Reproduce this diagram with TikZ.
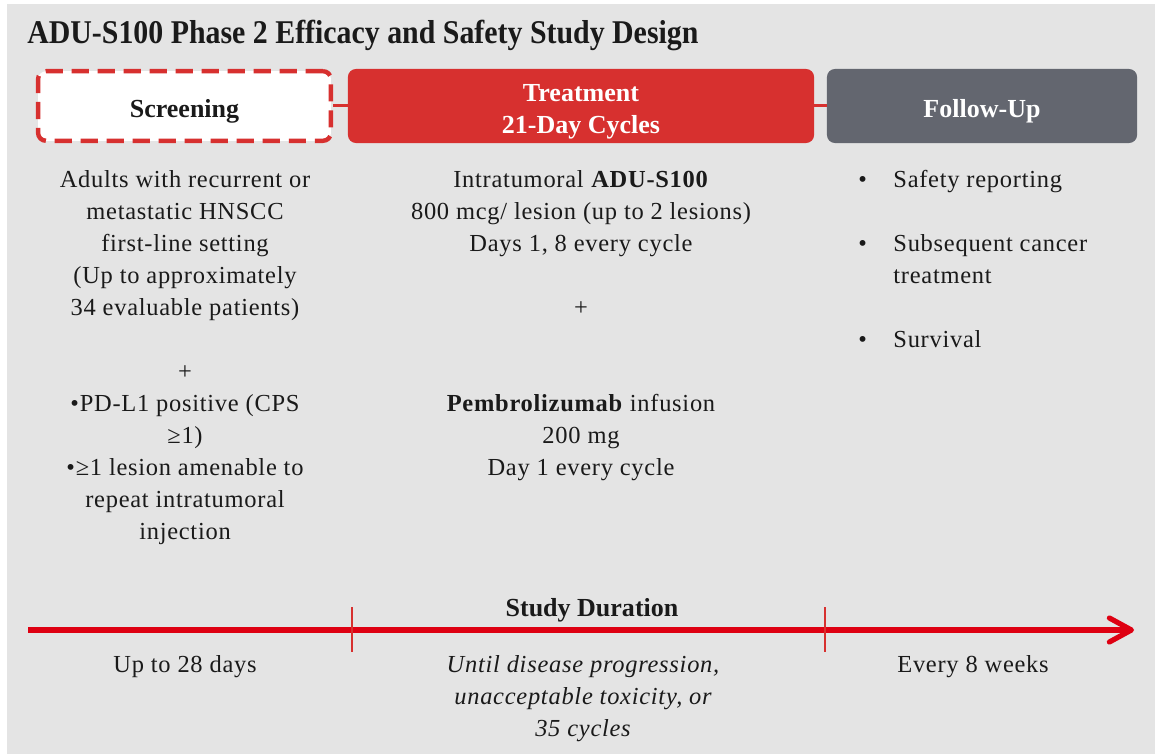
\documentclass[tikz,border=0pt]{standalone}
\usepackage{fontspec}
\setmainfont{Liberation Serif}
\newfontfamily\slidebody{Liberation Serif}[LetterSpace=3]
\newfontfamily\slidetitle{Liberation Serif}[FakeStretch=0.9]
\usetikzlibrary{arrows.meta}
\definecolor{slidebg}{HTML}{E4E4E4}
\definecolor{phasered}{HTML}{D7302F}
\definecolor{phasegray}{HTML}{63666F}
\definecolor{axisred}{HTML}{DE0012}
\definecolor{inkblack}{HTML}{1A1A1A}
\newcommand\itemmark{\makebox[25pt][l]{•}}
\newcommand\itemgap{\makebox[25pt]{}}
\newcommand\capstrut{\rule{0pt}{16.4pt}}
\begin{document}
\begin{tikzpicture}[x=0.025cm,y=-0.025cm,
  phase/.style={rounded corners=2mm,minimum height=18.5mm,inner sep=0pt,align=center,
    text=white,text depth=0pt,font=\fontsize{18.5}{22.8}\selectfont\bfseries},
  body/.style={inner sep=0pt,align=center,text=inkblack,
    font=\slidebody\fontsize{17.4}{22.8}\selectfont},
  link/.style={phasered,line width=0.75mm}]
  \fill[white] (0,0) rectangle (1155,754);
  \fill[slidebg] (7,4) rectangle (1155,754);
  \useasboundingbox (0,0) rectangle (1155,754);
  \node[anchor=base west,inner sep=0pt,text=inkblack,
    font=\slidetitle\fontsize{23.6}{28}\selectfont\bfseries] (title) at (27,44)
    {ADU-S100 Phase 2 Efficacy and Safety Study Design};
  % phase boxes and the links between them
  \node[phase,fill=phasered,minimum width=116.5mm] (treat) at (581,106) {\capstrut Treatment\\21-Day Cycles};
  \node[phase,fill=phasegray,minimum width=77.5mm] (fu) at (982,106) {\capstrut Follow-Up};
  \node[phase,draw=phasered,fill=white,text=inkblack,line width=1.1mm,
    dash pattern=on 4.3mm off 2.2mm,minimum width=73.2mm,minimum height=17.4mm] (screen) at (184.5,106) {\capstrut Screening};
  \draw[link] (screen.east) -- (treat.west);
  \draw[link] (treat.east) -- (fu.west);
  % column texts
  \node[body,anchor=north] (elig) at (185,170) {Adults with recurrent or\\metastatic HNSCC\\first-line setting\\(Up to approximately\\34 evaluable patients)\\ \\+\\•PD-L1 positive (CPS\\≥1)\\•≥1 lesion amenable to\\repeat intratumoral\\injection};
  \node[body,anchor=north] (dosing) at (581,170) {Intratumoral \textbf{ADU-S100}\\800 mcg/ lesion (up to 2 lesions)\\Days 1, 8 every cycle\\ \\+\\ \\ \\\textbf{Pembrolizumab} infusion\\200 mg\\Day 1 every cycle};
  \node[body,anchor=north west,align=left] (fuitems) at (858,170) {\itemmark Safety reporting\\ \\\itemmark Subsequent cancer\\\itemgap treatment\\ \\\itemmark Survival};
  % study duration axis
  \coordinate (axstart) at (28,630);
  \coordinate (axend) at (1134,630);
  \draw[axisred,line width=1.3mm,-{Straight Barb[length=5.5mm,width=6mm,round]}] (axstart) -- (axend);
  \draw[phasered,line width=0.7mm] (352,607) -- (352,652);
  \draw[phasered,line width=0.7mm] (825,607) -- (825,652);
  \node[anchor=base,inner sep=0pt,text=inkblack,font=\fontsize{18.5}{22.8}\selectfont\bfseries] (duration) at (592,616) {Study Duration};
  \node[body,anchor=base] (scrtime) at (185,672) {Up to 28 days};
  \node[body,anchor=north,font=\slidebody\fontsize{17.4}{22.8}\selectfont\itshape] (treattime) at (583,655) {Until disease progression,\\unacceptable toxicity, or\\35 cycles};
  \node[body,anchor=base] (futime) at (973,672) {Every 8 weeks};
\end{tikzpicture}
\end{document}
